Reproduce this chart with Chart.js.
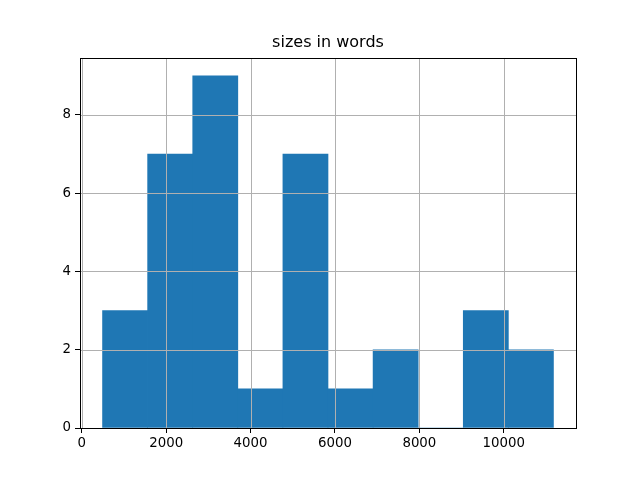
<!DOCTYPE html>
<html>
<head>
<meta charset="utf-8">
<script src="https://cdn.jsdelivr.net/npm/chart.js@4"></script>
<style>
  html, body { margin: 0; padding: 0; background: #fff; }
  #wrap { width: 640px; height: 480px; }
</style>
</head>
<body>
<div id="wrap"><canvas id="hist" width="640" height="480"></canvas></div>
<script>
// histogram of document sizes (10 bins)
const binStart = 492;
const binWidth = 1068.6;
const counts = [3, 7, 9, 1, 7, 1, 2, 0, 3, 2];
const xTicks = [0, 2000, 4000, 6000, 8000, 10000];
const yTicks = [0, 2, 4, 6, 8];

const BAR_COLOR = '#1f77b4';
const GRID_COLOR = '#b0b0b0';
const FONT = 'DejaVu Sans';

const binCenters = counts.map((_, i) => binStart + binWidth * (i + 0.5));
const span = binWidth * counts.length;
const xMin = binStart - span * 0.05;
const xMax = binStart + span * 1.05;
const yMax = Math.max(...counts) * 1.05;

// grid drawn above the bars, then the axes frame
const overlay = {
  id: 'overlay',
  afterDatasetsDraw(chart) {
    const { ctx, chartArea: a, scales } = chart;
    ctx.save();
    ctx.strokeStyle = GRID_COLOR;
    ctx.lineWidth = 1;
    xTicks.forEach(v => {
      const px = Math.round(scales.x.getPixelForValue(v)) + 0.5;
      ctx.beginPath(); ctx.moveTo(px, a.top); ctx.lineTo(px, a.bottom); ctx.stroke();
    });
    yTicks.forEach(v => {
      const py = Math.round(scales.y.getPixelForValue(v)) + 0.5;
      ctx.beginPath(); ctx.moveTo(a.left, py); ctx.lineTo(a.right, py); ctx.stroke();
    });
    ctx.strokeStyle = '#000';
    ctx.strokeRect(Math.round(a.left) + 0.5, Math.round(a.top) + 0.5,
      Math.round(a.right - a.left), Math.round(a.bottom - a.top));
    ctx.restore();
  }
};

new Chart(document.getElementById('hist'), {
  type: 'bar',
  data: {
    datasets: [{
      data: binCenters.map((x, i) => ({ x, y: counts[i] })),
      backgroundColor: BAR_COLOR,
      borderColor: BAR_COLOR,
      borderWidth: 0,
      barPercentage: 1,
      categoryPercentage: 1
    }]
  },
  options: {
    responsive: false,
    animation: false,
    layout: { padding: { left: 0, right: 64, top: 0, bottom: 0 } },
    plugins: {
      legend: { display: false },
      tooltip: { enabled: false },
      title: {
        display: true,
        text: 'sizes in words',
        fullSize: false,
        color: '#000',
        font: { family: FONT, size: 16, weight: 'normal' },
        padding: { top: 33, bottom: 6 }
      }
    },
    scales: {
      x: {
        type: 'linear',
        offset: false,
        min: xMin,
        max: xMax,
        afterBuildTicks: s => { s.ticks = xTicks.map(v => ({ value: v })); },
        afterFit: s => { s.height = 52; },
        grid: { offset: false, color: 'rgba(0,0,0,0)', tickColor: '#000', tickLength: 5, drawOnChartArea: false },
        border: { display: false },
        ticks: { color: '#000', font: { family: FONT, size: 13.33 }, padding: 3, maxRotation: 0,
                 callback: v => String(v) }
      },
      y: {
        min: 0,
        max: yMax,
        afterBuildTicks: s => { s.ticks = yTicks.map(v => ({ value: v })); },
        afterFit: s => { s.width = 80; },
        grid: { color: 'rgba(0,0,0,0)', tickColor: '#000', tickLength: 5, drawOnChartArea: false },
        border: { display: false },
        ticks: { color: '#000', font: { family: FONT, size: 13.33 }, padding: 4,
                 callback: v => String(v) }
      }
    }
  },
  plugins: [overlay]
});
</script>
</body>
</html>
